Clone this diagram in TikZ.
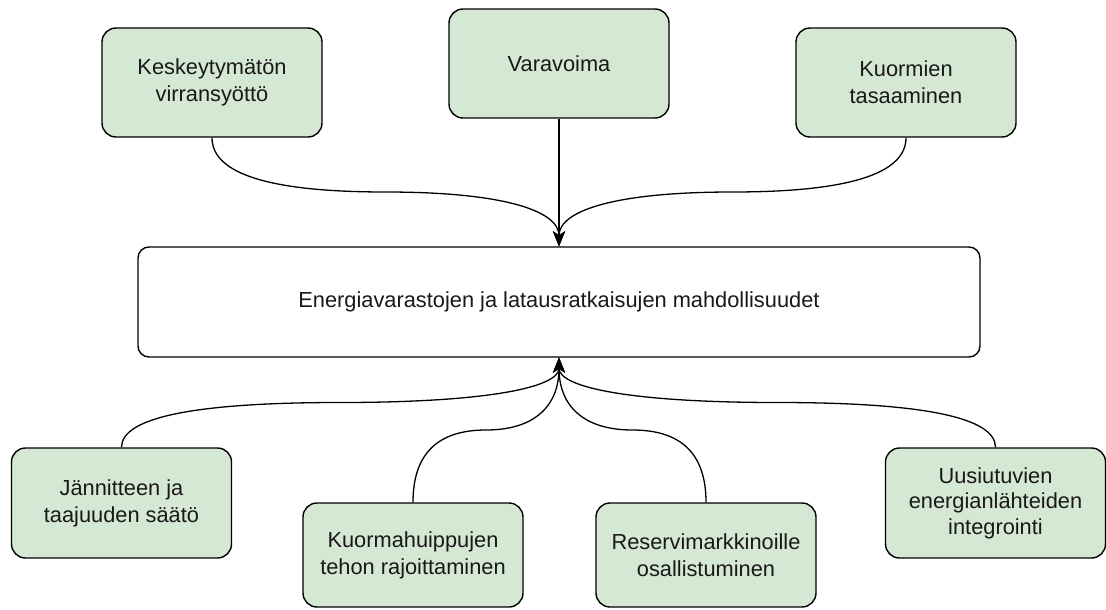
\documentclass[tikz,border=0pt]{standalone}
\usepackage{fontspec}
\setmainfont{Liberation Sans}
\usetikzlibrary{calc,arrows.meta}
\definecolor{boxgreen}{HTML}{D5E8D4}
\tikzset{
  greenbox/.style={draw=black, line width=1.4pt, fill=boxgreen, rounded corners=14pt,
    minimum width=220pt, minimum height=109pt, inner sep=0pt, align=center,
    font=\fontsize{21.8}{27}\selectfont, text=black!90},
  mainbox/.style={draw=black, line width=1.4pt, fill=white, rounded corners=11pt,
    minimum width=842pt, minimum height=110pt, inner sep=0pt, align=center,
    font=\fontsize{21.8}{27}\selectfont, text=black!90},
  link/.style={draw=black, line width=1.3pt, -{Stealth[length=15pt,width=12pt,inset=4pt]}},
  curvy/.style={to path={let \p1=(\tikztostart), \p2=(\tikztotarget), \p3=($(\p1)!.5!(\p2)$) in
    .. controls ($(\p1)!2/3!(\x1,\y3)$) and ($(\p3)!2/3!(\x1,\y3)$) .. (\p3)
    .. controls ($(\p3)!2/3!(\x2,\y3)$) and ($(\p2)!2/3!(\x2,\y3)$) .. (\tikztotarget)}}
}
\begin{document}
\begin{tikzpicture}[x=1pt,y=-1pt]
\useasboundingbox (0,0) rectangle (1106,610);
\node[greenbox] (b1) at (212,82.5) {Keskeytymätön\\virransyöttö};
\node[greenbox] (b2) at (559,63.5) {Varavoima};
\node[greenbox] (b3) at (906,82.5) {Kuormien\\tasaaminen};
\node[mainbox] (ctr) at (559,302) {Energiavarastojen ja latausratkaisujen mahdollisuudet};
\node[greenbox, minimum height=110pt] (b4) at (121.5,503) {Jännitteen ja\\taajuuden säätö};
\node[greenbox, minimum height=104pt] (b5) at (413,555) {Kuormahuippujen\\tehon rajoittaminen};
\node[greenbox, minimum height=104pt] (b6) at (706,555) {Reservimarkkinoille\\osallistuminen};
\node[greenbox, minimum height=110pt, font=\fontsize{21.8}{25.5}\selectfont] (b7) at (995.5,503) {Uusiutuvien\\energianlähteiden\\integrointi};
\draw[link] (b1.south) to[curvy] (ctr.north);
\draw[link] (b2.south) -- (ctr.north);
\draw[link] (b3.south) to[curvy] (ctr.north);
\draw[link] (b4.north) to[curvy] (ctr.south);
\draw[link] (b5.north) to[curvy] (ctr.south);
\draw[link] (b6.north) to[curvy] (ctr.south);
\draw[link] (b7.north) to[curvy] (ctr.south);
\end{tikzpicture}
\end{document}
